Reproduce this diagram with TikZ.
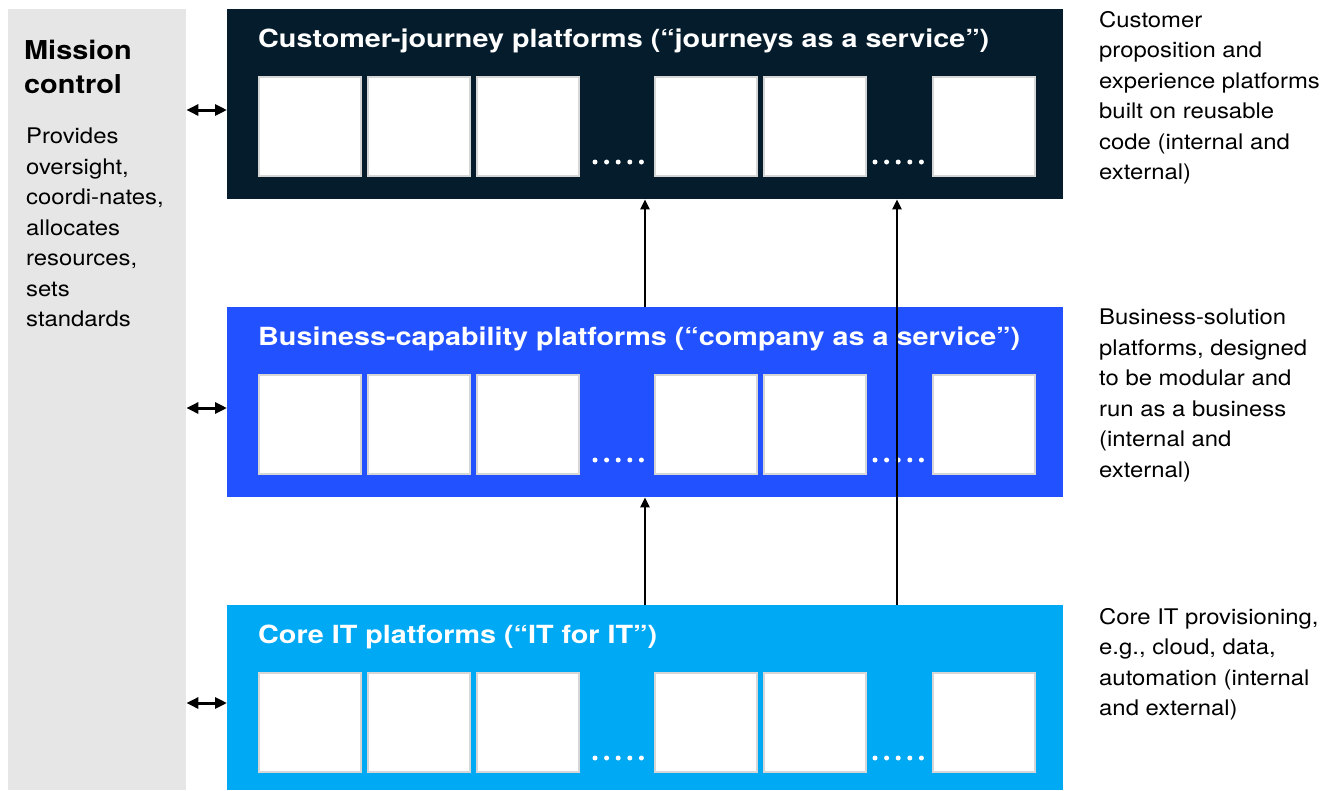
\documentclass[tikz,border=0pt]{standalone}
\usepackage{fontspec}
\setmainfont[FakeStretch=1.11]{TeX Gyre Heros}
\newfontfamily\titlefont[FakeStretch=1.15]{TeX Gyre Heros}
\usetikzlibrary{arrows.meta}
\definecolor{navy}{HTML}{051C2C}
\definecolor{mblue}{HTML}{2251FF}
\definecolor{lblue}{HTML}{00A9F4}
\definecolor{mgrey}{HTML}{E6E6E6}
\definecolor{bordergrey}{HTML}{D6D6D6}
\tikzset{
  band/.style={inner sep=0, minimum width=836pt, anchor=north west},
  wbox/.style={draw=bordergrey, line width=2pt, fill=white, inner sep=0, minimum width=102pt, minimum height=99pt, anchor=north west},
  title/.style={anchor=west, text=white, inner sep=0, font=\titlefont\fontsize{25}{28}\selectfont\bfseries},
  side/.style={anchor=north west, align=left, inner sep=0, font=\fontsize{21.5}{30.5}\selectfont},
  dot/.style={circle, fill=white, inner sep=0, minimum size=5pt},
  conn/.style={line width=2.8pt, -{Triangle[width=9pt,length=10pt]}},
  dconn/.style={line width=3pt, {Triangle[width=11pt,length=12pt]}-{Triangle[width=11pt,length=12pt]}}
}
\begin{document}
\begin{tikzpicture}[x=1pt,y=-1pt]
\useasboundingbox (0,0) rectangle (1341,790);
% mission control panel
\node[fill=mgrey, inner sep=0, minimum width=178pt, minimum height=781pt, anchor=north west] (mc) at (8,9) {};
\node[anchor=north west, align=left, inner sep=0, font=\fontsize{26}{34}\selectfont\bfseries] (mctitle) at (24,40) {Mission\\control};
\node[side] (mctext) at (26,128) {Provides\\oversight,\\coordi-nates,\\allocates\\resources,\\sets\\standards};
% bands
\node[band, fill=navy, minimum height=190pt] (cj) at (227,9) {};
\node[band, fill=mblue, minimum height=190pt] (bc) at (227,307) {};
\node[band, fill=lblue, minimum height=185pt] (ci) at (227,605) {};
\node[title] (cjt) at (258,41) {Customer-journey platforms (“journeys as a service”)};
\node[title] (bct) at (258,339) {Business-capability platforms (“company as a service”)};
\node[title] (cit) at (258,637) {Core IT platforms (“IT for IT”)};
% white boxes
\foreach \r/\y in {a/76,b/374,c/672}{
  \foreach \i/\x in {1/257.5,2/366.5,3/475.5,4/654,5/763,6/932}{
    \node[wbox] (\r\i) at (\x,\y) {};
  }
  \foreach \j/\x in {1/595,2/606.6,3/618.2,4/629.8,5/641.4,6/875,7/886.6,8/898.2,9/909.8,10/921.4}{
    \node[dot] (d\r\j) at (\x,\y+86) {};
  }
}
% side texts
\node[side] (rt1) at (1099,11) {Customer\\proposition and\\experience platforms\\built on reusable\\code (internal and\\external)};
\node[side] (rt2) at (1099,309) {Business-solution\\platforms, designed\\to be modular and\\run as a business\\(internal and\\external)};
\node[side] (rt3) at (1099,608) {Core IT provisioning,\\e.g., cloud, data,\\automation (internal\\and external)};
% vertical arrows
\coordinate (xa) at (645,0);
\coordinate (xb) at (897,0);
\draw[conn] (bc.north -| xa) -- (cj.south -| xa);
\draw[conn] (ci.north -| xa) -- (bc.south -| xa);
\draw[conn] (ci.north -| xb) -- (cj.south -| xb);
% double arrows
\draw[dconn] (mc.east |- 0,110) -- (cj.west |- 0,110);
\draw[dconn] (mc.east |- 0,408) -- (bc.west |- 0,408);
\draw[dconn] (mc.east |- 0,703) -- (ci.west |- 0,703);
\end{tikzpicture}
\end{document}
